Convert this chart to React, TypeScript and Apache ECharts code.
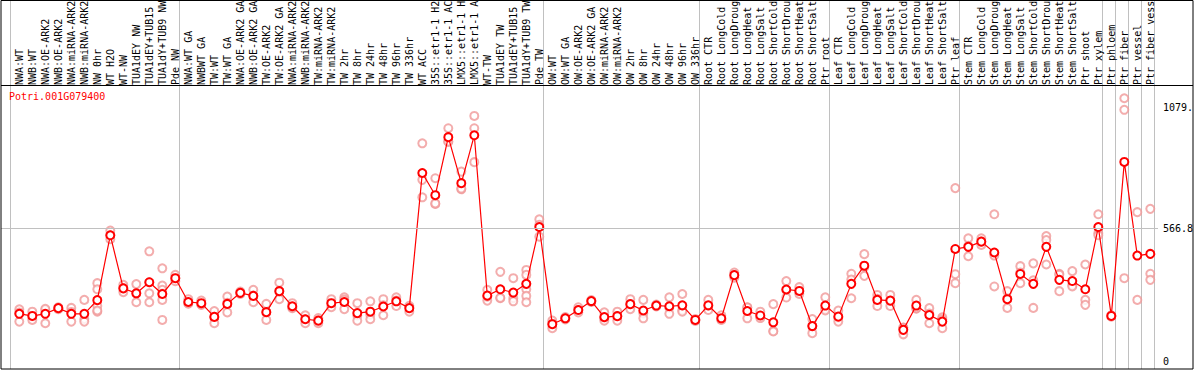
import React, { useEffect, useRef } from "react";
import * as echarts from "echarts";

const geneId = "Potri.001G079400";

// Column labels as they are visible in the header (long names are cut at the top edge)
const categories = [
  "NWA:WT", "NWB:WT", "NWA:OE-ARK2", "NWB:OE-ARK2", "NWA:miRNA-ARK2", "NWB:miRNA-ARK2",
  "NW 0hr", "WT H2O", "WT-NW", "TUA1dEY NW", "TUA1dEY+TUB15", "TUA1dY+TUB9 NW", "Pde NW",
  "NWA:WT GA", "NWBWT GA", "TW:WT", "TW:WT GA", "NWA:OE-ARK2 GA", "NWB:OE-ARK2 GA",
  "TW:OE-ARK2", "TW:OE-ARK2 GA", "NWA:miRNA-ARK2", "NWB:miRNA-ARK2", "TW:miRNA-ARK2",
  "TW:miRNA-ARK2", "TW 2hr", "TW 8hr", "TW 24hr", "TW 48hr", "TW 96hr", "TW 336hr",
  "WT ACC", "35S::etr1-1 H2", "35S::etr1-1 AC", "LMX5::etr1-1 H", "LMX5::etr1-1 A",
  "WT-TW", "TUA1dEY TW", "TUA1dEY+TUB15", "TUA1dY+TUB9 TW", "Pde TW",
  "OW:WT", "OW:WT GA", "OW:OE-ARK2", "OW:OE-ARK2 GA", "OW:miRNA-ARK2", "OW:miRNA-ARK2",
  "OW 2hr", "OW 8hr", "OW 24hr", "OW 48hr", "OW 96hr", "OW 336hr",
  "Root CTR", "Root LongCold", "Root LongDroug", "Root LongHeat", "Root LongSalt",
  "Root ShortCold", "Root ShortDrou", "Root ShortHeat", "Root ShortSalt", "Ptr root",
  "Leaf CTR", "Leaf LongCold", "Leaf LongDroug", "Leaf LongHeat", "Leaf LongSalt",
  "Leaf ShortCold", "Leaf ShortDrou", "Leaf ShortHeat", "Leaf ShortSalt", "Ptr leaf",
  "Stem CTR", "Stem LongCold", "Stem LongDroug", "Stem LongHeat", "Stem LongSalt",
  "Stem ShortCold", "Stem ShortDrou", "Stem ShortHeat", "Stem ShortSalt", "Ptr shoot",
  "Ptr xylem", "Ptr phloem", "Ptr fiber", "Ptr vessel", "Ptr fiber vess",
];

const means = [
  204, 195, 204, 228, 204, 204, 262, 537, 312, 291, 338, 288, 355,
  254, 249, 191, 246, 293, 280, 211, 300, 236, 181, 175, 249, 254, 207, 213, 235, 257, 228,
  801, 707, 953, 758, 961, 281, 308, 294, 331, 572,
  160, 185, 220, 258, 190, 194, 245, 218, 239, 236, 240, 178,
  240, 185, 368, 216, 197, 168, 307, 301, 152, 239,
  192, 331, 408, 263, 260, 136, 239, 199, 171, 479,
  488, 510, 464, 266, 373, 331, 488, 348, 343, 308, 572,
  195, 848, 451, 458,
];

const replicates: number[][] = [
  [223, 209, 171], [213, 192, 178], [220, 225, 164], [232, 228, 224], [229, 212, 171],
  [263, 182, 171], [334, 308, 237, 213, 218], [557, 537, 520], [327, 313, 296], [330, 291, 253],
  [469, 338, 291, 253], [397, 324, 306, 289, 263, 178], [369, 355, 342],
  [266, 249, 247], [260, 242, 245], [216, 191, 164], [277, 210, 251], [298, 293, 288],
  [306, 281, 253], [246, 211, 178], [336, 300, 266], [249, 228, 231], [198, 181, 164],
  [186, 175, 164], [266, 249, 232], [274, 264, 224], [249, 197, 175], [257, 200, 181],
  [266, 240, 198], [274, 260, 237], [232, 238, 213],
  [927, 772, 698], [779, 670, 672], [991, 934, 934], [807, 732, 735], [1043, 991, 847],
  [306, 260, 277], [382, 270, 272], [355, 270, 257], [390, 369, 330, 308, 280, 253], [605, 581, 531],
  [175, 162, 143], [190, 185, 180], [232, 220, 210], [262, 258, 254], [210, 185, 175],
  [213, 194, 175], [266, 245, 224], [263, 206, 185], [243, 239, 235], [274, 230, 204],
  [288, 219, 213], [182, 178, 174],
  [263, 237, 220], [198, 180, 178], [379, 368, 357], [232, 231, 185], [213, 192, 186],
  [245, 131, 129], [343, 305, 273], [317, 298, 288], [182, 152, 122], [274, 225, 218],
  [218, 187, 171], [374, 349, 270], [457, 403, 365], [284, 268, 237], [284, 259, 237],
  [145, 146, 117], [263, 226, 228], [228, 205, 164], [189, 181, 143], [737, 372, 334],
  [524, 492, 448], [524, 510, 496], [626, 451, 320], [300, 269, 229], [406, 379, 334],
  [418, 346, 229], [534, 517, 413], [374, 370, 300], [385, 325, 320], [413, 263, 242],
  [626, 546, 537],
  [198, 195, 192], [1118, 1069, 355], [635, 263], [649, 374, 348],
];

const yTickValues = [0, 566.8, 1079.6];
const yTickTexts = ["0", "566.8", "1079."];
const gridLineValue = 566.8;
const groupBoundaries = [0, 13, 41, 53, 63, 73, 84, 85, 86, 87, 88];

const Y_MIN = -30;
const Y_MAX = 1170;
const MONO = "DejaVu Sans Mono";

export default function App() {
  const ref = useRef<HTMLDivElement>(null);

  useEffect(() => {
    if (!ref.current) return;
    const chart = echarts.init(ref.current, undefined, { renderer: "svg" });

    const repData: [number, number][] = [];
    replicates.forEach((arr, i) => arr.forEach((v) => repData.push([i, v])));

    const boundarySet = new Set(groupBoundaries);

    chart.setOption({
      animation: false,
      backgroundColor: "#ffffff",
      title: {
        text: geneId,
        left: 9,
        top: 91,
        padding: 0,
        textStyle: { color: "#ff0000", fontSize: 10, fontFamily: MONO, fontWeight: "normal" },
      },
      grid: [
        { left: 12.8, right: 37.2, top: 86, bottom: 1, containLabel: false, outerBoundsMode: "none" },
        { left: 10.7, right: 39.3, top: 0, bottom: 1, containLabel: false, outerBoundsMode: "none" },
        { left: 1, right: 36, top: 86, bottom: 1, containLabel: false, outerBoundsMode: "none" },
      ],
      xAxis: [
        {
          type: "category",
          gridIndex: 0,
          position: "top",
          data: categories,
          boundaryGap: true,
          axisLine: { show: false },
          axisTick: { show: false },
          splitLine: { show: false },
          axisLabel: {
            interval: 0,
            rotate: 90,
            margin: 1,
            hideOverlap: false,
            fontFamily: MONO,
            fontSize: 10,
            color: "#000000",
          },
        },
        {
          type: "category",
          gridIndex: 1,
          data: categories,
          boundaryGap: true,
          axisLine: { show: false },
          axisTick: { show: false },
          axisLabel: { show: false },
          splitLine: {
            show: true,
            interval: (index: number) => boundarySet.has(index),
            lineStyle: { color: "#c0c0c0", width: 1 },
          },
        },
        {
          type: "value",
          gridIndex: 2,
          min: 0,
          max: 1,
          show: false,
        },
      ],
      yAxis: [
        { type: "value", gridIndex: 0, min: Y_MIN, max: Y_MAX, show: false },
        { type: "value", gridIndex: 1, min: 0, max: 1, show: false },
        { type: "value", gridIndex: 2, min: Y_MIN, max: Y_MAX, show: false },
      ],
      series: [
        {
          type: "line",
          xAxisIndex: 2,
          yAxisIndex: 2,
          data: [],
          silent: true,
          markLine: {
            silent: true,
            symbol: ["none", "none"],
            animation: false,
            data: yTickValues.map((v, i) => ({
              yAxis: v,
              name: yTickTexts[i],
              lineStyle: {
                color: v === gridLineValue ? "#c0c0c0" : "rgba(0,0,0,0)",
                width: 1,
                type: "solid",
              },
              label: {
                show: true,
                position: "end",
                distance: 5,
                formatter: yTickTexts[i],
                color: "#000000",
                fontFamily: MONO,
                fontSize: 10,
              },
            })),
          },
        },
        {
          type: "scatter",
          xAxisIndex: 0,
          yAxisIndex: 0,
          data: repData,
          symbol: "emptyCircle",
          symbolSize: 8,
          itemStyle: { color: "#f09898", borderColor: "#f09898", borderWidth: 1.2 },
          z: 2,
        },
        {
          type: "line",
          xAxisIndex: 0,
          yAxisIndex: 0,
          data: means,
          symbol: "emptyCircle",
          symbolSize: 8,
          lineStyle: { color: "#ff0000", width: 1.2 },
          itemStyle: { color: "#ff0000", borderColor: "#ff0000", borderWidth: 1.6 },
          z: 3,
        },
      ],
      graphic: [
        {
          type: "rect",
          shape: { x: 1, y: 0.5, width: 1192, height: 368.5 },
          style: { fill: "none", stroke: "#000000", lineWidth: 1 },
          z: 100,
          silent: true,
        },
        {
          type: "line",
          shape: { x1: 1, y1: 85.5, x2: 1193, y2: 85.5 },
          style: { stroke: "#000000", lineWidth: 1 },
          z: 100,
          silent: true,
        },
      ],
    });

    return () => chart.dispose();
  }, []);

  return (
    <div
      ref={ref}
      style={{ position: "absolute", left: 0, top: 0, width: 1194, height: 370, background: "#fff" }}
    />
  );
}
